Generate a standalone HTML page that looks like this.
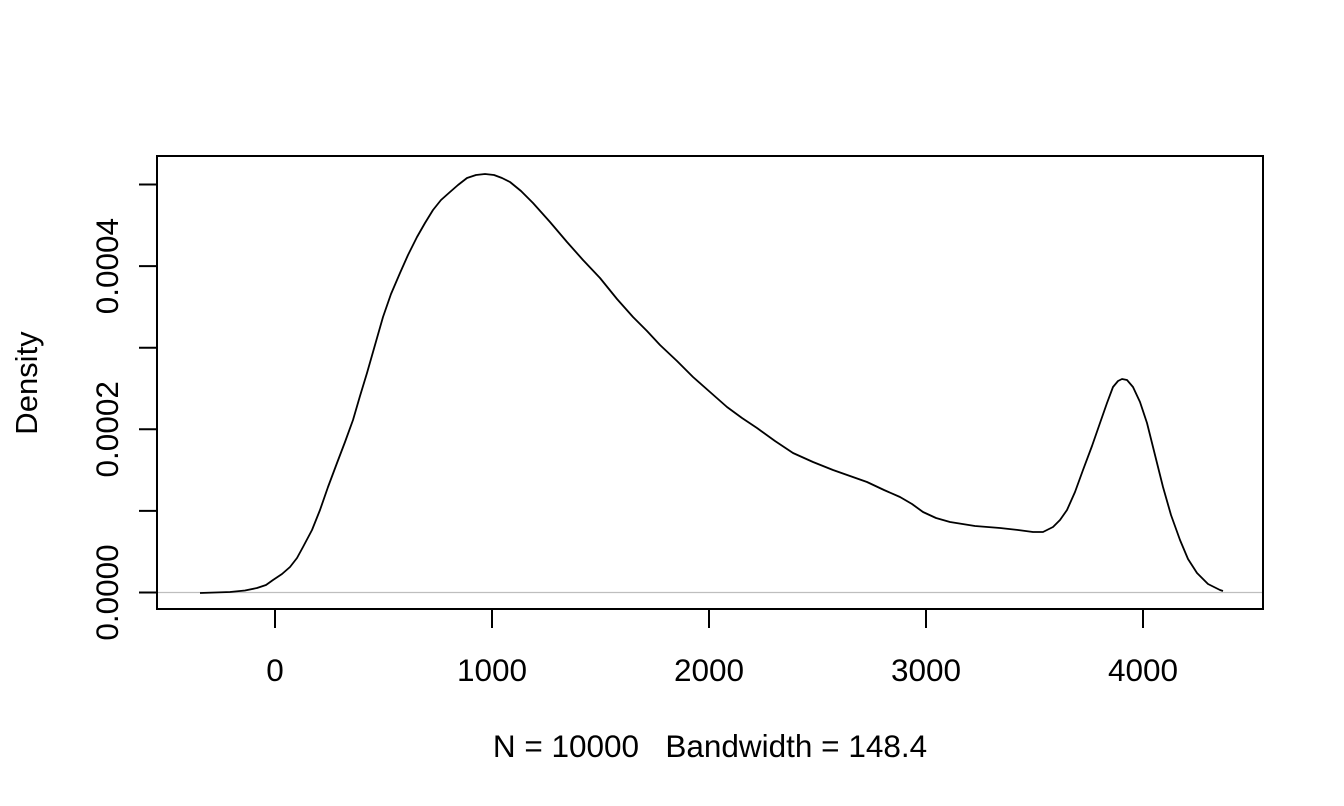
<!DOCTYPE html>
<html><head><meta charset="utf-8"><style>
html,body{margin:0;padding:0;background:#fff;}
svg{display:block;}
text{font-family:"Liberation Sans",Arial,sans-serif;fill:#000;white-space:pre;}
</style></head><body>
<svg width="1344" height="806" viewBox="0 0 1344 806" xmlns="http://www.w3.org/2000/svg">
<rect width="1344" height="806" fill="#fff"/>
<line x1="157" y1="592.5" x2="1263" y2="592.5" stroke="#bebebe" stroke-width="1.2"/>
<rect x="157" y="156" width="1106" height="453" fill="none" stroke="#000" stroke-width="2"/>
<g stroke="#000" stroke-width="2">
<line x1="275" y1="609" x2="275" y2="628"/>
<line x1="492" y1="609" x2="492" y2="628"/>
<line x1="709" y1="609" x2="709" y2="628"/>
<line x1="926" y1="609" x2="926" y2="628"/>
<line x1="1143" y1="609" x2="1143" y2="628"/>
<line x1="139" y1="592.5" x2="157" y2="592.5"/>
<line x1="139" y1="510.9" x2="157" y2="510.9"/>
<line x1="139" y1="429.3" x2="157" y2="429.3"/>
<line x1="139" y1="347.7" x2="157" y2="347.7"/>
<line x1="139" y1="266.1" x2="157" y2="266.1"/>
<line x1="139" y1="184.5" x2="157" y2="184.5"/>
</g>
<g font-size="31.5" text-anchor="middle">
<text x="275" y="681">0</text>
<text x="492" y="681">1000</text>
<text x="709" y="681">2000</text>
<text x="926" y="681">3000</text>
<text x="1143" y="681">4000</text>
<text transform="translate(118,592.5) rotate(-90)">0.0000</text>
<text transform="translate(118,429.3) rotate(-90)">0.0002</text>
<text transform="translate(118,266.1) rotate(-90)">0.0004</text>
<text transform="translate(37,383) rotate(-90)" font-size="31">Density</text>
<text x="710" y="757">N = 10000   Bandwidth = 148.4</text>
</g>
<path fill="none" stroke="#000" stroke-width="1.8" stroke-linejoin="round"
d="M200,593 L230,592 L245,590.5 L257,588 L266,585 L273,580 L282,574 L290,567 L297,558 L303,547 L312,530 L320,510 L328,487 L337,463 L345,442 L353,420 L360,396 L367,373 L375,345 L383,317 L391,294 L400,273 L408,255 L417,237 L425,223 L433,210 L441,200 L450,192 L458,185 L467,178 L476,175 L485,174 L494,175 L502,178 L510,182 L521,191 L533,203 L550,222 L567,242 L583,260 L600,278 L617,299 L633,317 L647,331 L660,345 L677,361 L693,377 L710,392 L727,407 L742,418 L757,428 L775,441 L793,453 L813,462 L833,470 L850,476 L867,482 L884,490 L900,497 L912,504 L923,512 L936,518 L950,522 L975,526 L1000,528 L1018,530 L1033,532 L1043,532 L1053,527 L1060,520 L1067,510 L1075,492 L1083,470 L1092,446 L1100,423 L1107,403 L1113,387 L1118,381 L1122,379 L1127,380 L1133,387 L1140,402 L1147,423 L1155,455 L1163,487 L1171,515 L1180,540 L1188,559 L1197,573 L1208,584 L1220,590 L1223,591"/>
</svg>
</body></html>
